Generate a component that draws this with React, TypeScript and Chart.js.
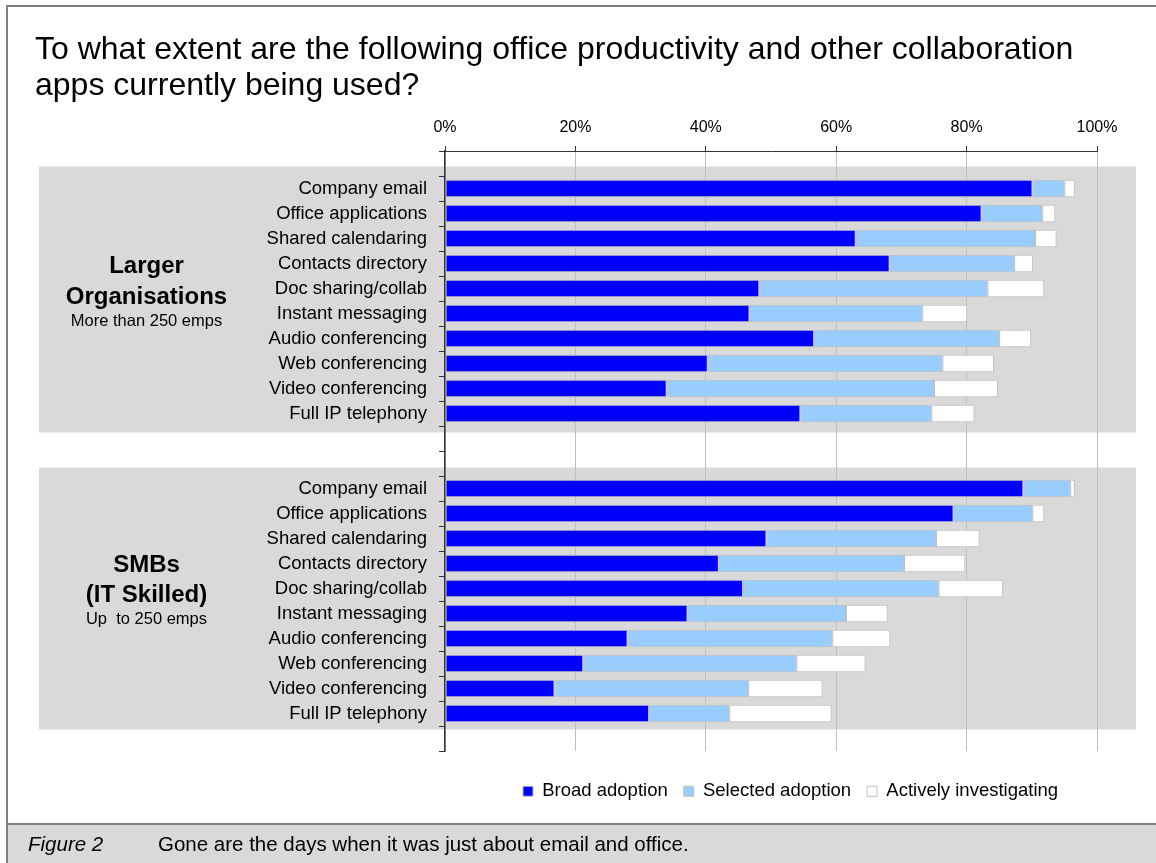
import React, { useEffect, useRef } from 'react';
import { Chart, registerables } from 'chart.js';

Chart.register(...registerables);

// ---------- data ----------
const categories = [
  'Company email',
  'Office applications',
  'Shared calendaring',
  'Contacts directory',
  'Doc sharing/collab',
  'Instant messaging',
  'Audio conferencing',
  'Web conferencing',
  'Video conferencing',
  'Full IP telephony',
];

const seriesNames = ['Broad adoption', 'Selected adoption', 'Actively investigating'];

// Larger organisations (more than 250 emps)
const largerBroad = [90.1, 82.3, 63.0, 68.2, 48.2, 46.7, 56.6, 40.3, 34.0, 54.5];
const largerSelected = [4.9, 9.3, 27.5, 19.1, 35.0, 26.5, 28.4, 36.0, 41.0, 20.1];
const largerInvestigating = [1.6, 2.0, 3.3, 2.9, 8.7, 6.9, 4.9, 7.9, 9.8, 6.6];

// SMBs (IT skilled, up to 250 emps)
const smbBroad = [88.7, 78.0, 49.3, 42.0, 45.7, 37.2, 28.0, 21.2, 16.8, 31.3];
const smbSelected = [7.2, 12.1, 26.0, 28.4, 30.0, 24.3, 31.4, 32.7, 29.7, 12.3];
const smbInvestigating = [0.7, 1.8, 6.7, 9.4, 9.9, 6.4, 8.9, 10.6, 11.4, 15.7];

const xTickSuffix = '%';
const titleLines = [
  'To what extent are the following office productivity and other collaboration',
  'apps currently being used?',
];
const groupLarger = ['Larger', 'Organisations', 'More than 250 emps'];
const groupSmb = ['SMBs', '(IT Skilled)', 'Up  to 250 emps'];
const figureLabel = 'Figure 2';
const figureCaption = 'Gone are the days when it was just about email and office.';

// ---------- styling ----------
const FONT = '"Liberation Sans", Arial, Helvetica, sans-serif';
const BAND = '#D9D9D9';
const COLORS = ['#0000FF', '#99CCFF', '#FFFFFF'];

const slotLabels = ['', ...categories, '', '', ...categories, ''];
const pad = (a: number[], b: number[]) => [null, ...a, null, null, ...b, null];

const bandPlugin = {
  id: 'groupBands',
  beforeDraw(chart: any) {
    const y = chart.scales.y;
    const ctx = chart.ctx;
    const bands = [
      { from: 1, to: 10, above: 22, below: 19 },
      { from: 13, to: 22, above: 21, below: 16 },
    ];
    ctx.save();
    ctx.fillStyle = BAND;
    bands.forEach((b) => {
      const top = y.getPixelForValue(b.from) - b.above;
      const bottom = y.getPixelForValue(b.to) + b.below;
      ctx.fillRect(39, top, 1136 - 39, bottom - top);
    });
    ctx.restore();
  },
  afterLayout(chart: any) {
    const lg = chart.legend;
    if (!lg) return;
    const h = lg.height;
    lg.left = 507;
    lg.right = 1150;
    lg.top = 766;
    lg.bottom = 766 + h;
  },
};

function ChartCanvas() {
  const ref = useRef<HTMLCanvasElement | null>(null);
  useEffect(() => {
    if (!ref.current) return;
    const chart = new Chart(ref.current, {
      type: 'bar',
      data: {
        labels: slotLabels,
        datasets: [
          { label: seriesNames[0], data: pad(largerBroad, smbBroad) },
          { label: seriesNames[1], data: pad(largerSelected, smbSelected) },
          { label: seriesNames[2], data: pad(largerInvestigating, smbInvestigating) },
        ].map((d, i) => ({
          ...d,
          backgroundColor: COLORS[i],
          borderColor: '#BFBFBF',
          borderWidth: 1,
          borderSkipped: false,
          categoryPercentage: 1,
          barPercentage: 0.7,
        })) as any,
      },
      plugins: [bandPlugin],
      options: {
        indexAxis: 'y',
        responsive: false,
        animation: false,
        layout: { padding: { top: 100, left: 0, right: 59, bottom: 67.5 } },
        font: { family: FONT },
        plugins: {
          title: { display: false },
          tooltip: { enabled: false },
          legend: {
            display: true,
            position: 'bottom',
            align: 'start',
            labels: {
              boxWidth: 10,
              boxHeight: 10,
              padding: 16,
              color: '#000',
              font: { family: FONT, size: 18.5 },
            },
          },
        },
        scales: {
          x: {
            type: 'linear',
            position: 'top',
            stacked: true,
            min: 0,
            max: 100,
            ticks: {
              stepSize: 20,
              color: '#000',
              padding: 9,
              maxRotation: 0,
              font: { family: FONT, size: 16 },
              callback: (v: any) => v + xTickSuffix,
            },
            grid: {
              color: '#BFBFBF',
              lineWidth: 1,
              tickColor: '#333',
              tickLength: 5,
              drawTicks: true,
            },
            border: { display: true, color: '#333', width: 1 },
            afterFit: (s: any) => {
              s.height = 51;
            },
          },
          y: {
            type: 'category',
            stacked: true,
            offset: true,
            ticks: {
              autoSkip: false,
              color: '#000',
              padding: 12,
              font: { family: FONT, size: 18.5 },
            },
            grid: {
              display: true,
              offset: true,
              drawOnChartArea: false,
              drawTicks: true,
              tickLength: 6,
              color: '#333',
            },
            border: { display: true, color: '#333', width: 1.5 },
            afterFit: (s: any) => {
              s.width = 445;
            },
          },
        },
      } as any,
    });
    return () => chart.destroy();
  }, []);
  return (
    <canvas
      ref={ref}
      width={1156}
      height={863}
      style={{ position: 'absolute', left: 0, top: 0, width: 1156, height: 863 }}
    />
  );
}

function Line({ text, cx, cy, size, bold, italic, left }: any) {
  const lh = Math.round(size * 1.25);
  const style: any = {
    position: 'absolute',
    top: cy - lh / 2,
    fontSize: size,
    lineHeight: lh + 'px',
    fontWeight: bold ? 'bold' : 'normal',
    fontStyle: italic ? 'italic' : 'normal',
    whiteSpace: 'pre',
    color: '#000',
  };
  if (left !== undefined) {
    style.left = left;
  } else {
    style.left = cx - 150;
    style.width = 300;
    style.textAlign = 'center';
  }
  return <div style={style}>{text}</div>;
}

export default function App() {
  useEffect(() => {
    document.body.style.margin = '0';
  }, []);
  return (
    <div
      style={{
        position: 'absolute',
        left: 0,
        top: 0,
        width: 1156,
        height: 863,
        overflow: 'hidden',
        background: '#fff',
        fontFamily: FONT,
      }}
    >
      {/* frame */}
      <div
        style={{
          position: 'absolute',
          left: 6,
          top: 5,
          width: 1150,
          height: 858,
          borderLeft: '2px solid #808080',
          borderTop: '2px solid #808080',
          boxSizing: 'border-box',
        }}
      />
      {/* footer band */}
      <div
        style={{
          position: 'absolute',
          left: 8,
          top: 823,
          width: 1148,
          height: 40,
          background: BAND,
          borderTop: '2px solid #808080',
          boxSizing: 'border-box',
        }}
      />
      <ChartCanvas />
      {/* title */}
      <div
        style={{
          position: 'absolute',
          left: 35,
          top: 30,
          fontSize: 32,
          lineHeight: '36px',
          whiteSpace: 'nowrap',
          color: '#000',
        }}
      >
        {titleLines[0]}
        <br />
        {titleLines[1]}
      </div>
      {/* group labels */}
      <Line text={groupLarger[0]} cx={146.5} cy={265} size={24} bold />
      <Line text={groupLarger[1]} cx={146.5} cy={295.5} size={24} bold />
      <Line text={groupLarger[2]} cx={146.5} cy={320.5} size={16.5} />
      <Line text={groupSmb[0]} cx={146.5} cy={564} size={24} bold />
      <Line text={groupSmb[1]} cx={146.5} cy={593.5} size={24} bold />
      <Line text={groupSmb[2]} cx={146.5} cy={618} size={16.5} />
      {/* footer */}
      <Line text={figureLabel} left={28} cy={844} size={20.5} italic />
      <Line text={figureCaption} left={158} cy={844} size={20.5} />
    </div>
  );
}
